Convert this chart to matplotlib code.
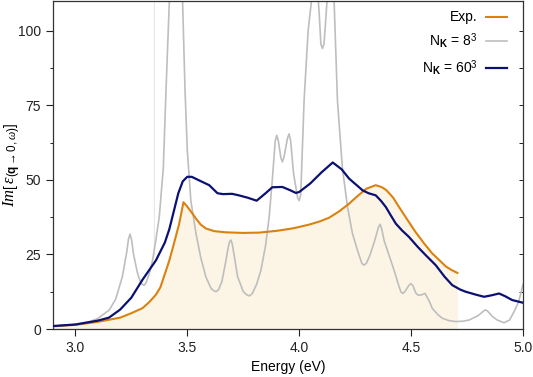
import numpy as np
import matplotlib
matplotlib.use("Agg")
import matplotlib.pyplot as plt
from matplotlib.ticker import MultipleLocator

# ---- data ----
exp_E = [2.90, 3.00, 3.10, 3.20, 3.25, 3.30, 3.33, 3.36, 3.38, 3.40, 3.42, 3.44, 3.464, 3.483,
         3.50, 3.52, 3.539, 3.56, 3.583, 3.62, 3.673, 3.75, 3.82, 3.90, 3.97, 4.00, 4.045,
         4.09, 4.134, 4.18, 4.223, 4.26, 4.30, 4.342, 4.37, 4.39, 4.42, 4.446, 4.48, 4.52,
         4.56, 4.595, 4.63, 4.655, 4.68, 4.707]
exp_v = [0.9, 1.4, 2.4, 3.8, 5.3, 7.0, 9.0, 11.5, 14.0, 18.5, 23.0, 28.5, 35.3, 42.5,
         41.0, 39.0, 37.0, 35.0, 33.7, 32.8, 32.4, 32.2, 32.3, 32.9, 33.7, 34.2, 35.0,
         36.0, 37.3, 39.5, 42.0, 44.5, 47.0, 48.2, 47.5, 46.5, 44.0, 40.9, 37.0, 32.5,
         28.5, 25.3, 22.8, 21.0, 19.8, 18.8]

nk8_E = [2.90, 3.00, 3.06, 3.10, 3.152, 3.18, 3.21, 3.23, 3.237, 3.244, 3.251, 3.26, 3.278,
         3.292, 3.30, 3.308, 3.316, 3.33, 3.345, 3.36, 3.375, 3.393, 3.405, 3.42, 3.435,
         3.45, 3.465, 3.479, 3.49, 3.50, 3.516, 3.539, 3.56, 3.583, 3.605, 3.615, 3.628,
         3.64, 3.655, 3.673, 3.682, 3.689, 3.695, 3.701, 3.71, 3.725, 3.75, 3.765, 3.777,
         3.79, 3.81, 3.829, 3.85, 3.866, 3.88, 3.893, 3.90, 3.907, 3.918, 3.925, 3.932,
         3.948, 3.955, 3.962, 3.975, 3.985, 3.993, 4.00, 4.007, 4.022, 4.04, 4.055, 4.075,
         4.09, 4.097, 4.104, 4.111, 4.12, 4.135, 4.156, 4.171, 4.193, 4.216, 4.238, 4.26,
         4.28, 4.29, 4.30, 4.315, 4.335, 4.355, 4.362, 4.369, 4.38, 4.394, 4.424, 4.445,
         4.455, 4.463, 4.472, 4.49, 4.499, 4.508, 4.52, 4.53, 4.545, 4.5625, 4.58, 4.595,
         4.62, 4.64, 4.67, 4.70, 4.73, 4.759, 4.80, 4.825, 4.833, 4.842, 4.862, 4.885,
         4.915, 4.94, 4.96, 4.98, 4.99, 5.00]
nk8_v = [0.9, 1.6, 2.4, 3.5, 6.4, 10.0, 17.5, 26.0, 30.0, 31.8, 30.0, 25.0, 18.6,
         15.5, 14.9, 14.7, 15.5, 18.5, 23.0, 30.0, 37.6, 54.0, 80.0, 110.0, 145.0,
         155.0, 140.0, 110.0, 80.0, 60.0, 43.0, 32.0, 24.0, 17.5, 13.8, 13.0, 12.5,
         13.2, 16.0, 23.0, 27.0, 29.3, 29.8, 28.5, 24.5, 17.5, 12.6, 11.5, 11.1,
         11.8, 15.0, 19.7, 28.0, 37.6, 50.0, 63.0, 64.9, 63.0, 57.5, 56.0, 57.5,
         64.0, 65.4, 63.0, 52.0, 47.6, 44.0, 43.0, 45.0, 76.6, 100.0, 110.0, 122.0,
         105.0, 95.5, 94.0, 95.5, 105.0, 122.0, 110.0, 76.6, 54.0, 40.9, 32.0, 26.5,
         22.0, 21.4, 22.0, 24.5, 29.0, 34.3, 35.1, 33.5, 29.5, 26.4, 19.7, 14.5,
         12.4, 11.9, 12.5, 14.6, 15.2, 14.6, 12.2, 11.4, 11.4, 11.9, 9.5, 6.9,
         4.8, 3.6, 2.8, 2.5, 2.6, 3.0, 4.5, 6.1, 6.4, 6.0, 4.3, 3.0,
         2.1, 3.0, 5.8, 9.0, 11.9, 15.0]

spike_E = [3.352, 3.353, 3.354]
spike_v = [24.0, 400.0, 25.0]

nk60_E = [2.90, 3.00, 3.10, 3.15, 3.20, 3.25, 3.30, 3.36, 3.40, 3.42, 3.44, 3.46, 3.48, 3.50,
          3.52, 3.553, 3.598, 3.635, 3.66, 3.70, 3.73, 3.77, 3.81, 3.85, 3.88, 3.925, 3.96,
          3.985, 4.00, 4.05, 4.10, 4.15, 4.19, 4.223, 4.26, 4.283, 4.31, 4.342, 4.365,
          4.387, 4.41, 4.432, 4.46, 4.49, 4.53, 4.566, 4.61, 4.65, 4.684, 4.72, 4.744,
          4.79, 4.826, 4.86, 4.893, 4.92, 4.952, 5.00]
nk60_v = [1.0, 1.5, 2.8, 3.8, 6.5, 10.5, 16.5, 23.0, 29.0, 33.5, 39.5, 45.5, 49.5, 51.0,
          51.0, 49.8, 48.2, 45.5, 45.2, 45.3, 44.8, 44.0, 43.0, 45.5, 47.5, 47.6, 46.5,
          45.6, 45.9, 48.8, 52.5, 55.8, 53.5, 50.4, 48.0, 46.5, 45.5, 44.8, 43.0,
          40.9, 38.0, 35.3, 33.0, 30.9, 27.5, 24.7, 21.4, 17.5, 14.7, 13.2, 12.5,
          11.5, 10.8, 11.3, 11.9, 11.0, 9.7, 8.8]

labels = ["Exp.", r"N$_\mathbf{K}$ = 8$^3$", r"N$_\mathbf{K}$ = 60$^3$"]
xticks = [3.0, 3.5, 4.0, 4.5, 5.0]
yticks = [0, 25, 50, 75, 100]

c_exp = "#D9820F"
c_8 = "#BEBEBE"
c_60 = "#0B1172"
c_fill = "#FCF5E6"

plt.rcParams['font.family'] = ['Liberation Sans', 'DejaVu Sans']
plt.rcParams['mathtext.fontset'] = 'custom'
plt.rcParams['mathtext.rm'] = 'Liberation Sans'
plt.rcParams['mathtext.bf'] = 'Liberation Sans:bold'
plt.rcParams['mathtext.it'] = 'Liberation Serif:italic'

fig = plt.figure(figsize=(5.33, 3.77), dpi=100)
ax = fig.add_axes([0.0994, 0.1273, 0.8818, 0.8707])

ax.fill_between(exp_E, 0, exp_v, color=c_fill, lw=0, zorder=1)
ax.plot(spike_E, spike_v, color='#D8D8D8', lw=0.4, alpha=0.6, zorder=2)
ax.plot(exp_E, exp_v, color=c_exp, lw=1.5, label=labels[0], zorder=4)
ax.plot(nk8_E, nk8_v, color=c_8, lw=1.2, label=labels[1], zorder=2)
ax.plot(nk60_E, nk60_v, color=c_60, lw=1.6, label=labels[2], zorder=5)

ax.set_xlim(2.9, 5.0)
ax.set_ylim(0, 110)
ax.set_xticks(xticks)
ax.set_xticklabels([f"{t:.1f}" for t in xticks])
ax.set_yticks(yticks)
ax.yaxis.set_minor_locator(MultipleLocator(12.5))
ax.tick_params(axis='both', which='major', direction='out', length=5, width=0.8,
               labelsize=10, colors='#222222')
ax.tick_params(axis='y', which='minor', direction='out', length=2.5, width=0.6)
for s in ax.spines.values():
    s.set_color('#333333')
    s.set_linewidth(0.9)

sec = ax.secondary_yaxis('right')
sec.set_yticks([12.5, 25, 37.5, 50, 62.5, 75, 87.5, 100])
sec.tick_params(direction='in', length=3, width=0.6, labelright=False)
sec.spines['right'].set_visible(False)

ax.set_xlabel("Energy (eV)", fontsize=10, labelpad=4)
ax.set_ylabel(r"$\mathit{Im}\left[\,\epsilon_{(\mathbf{q}\rightarrow 0,\omega)}\right]$",
              fontsize=12)
ax.yaxis.set_label_coords(-0.064, 0.5)

leg = ax.legend(loc='upper right', frameon=False, markerfirst=False, fontsize=10,
                handlelength=1.5, handletextpad=0.65, labelspacing=0.5,
                borderaxespad=0.3, bbox_to_anchor=(0.987, 1.0))
for t in leg.get_texts():
    t.set_ha('right')

fig.savefig("out.png", dpi=100)
